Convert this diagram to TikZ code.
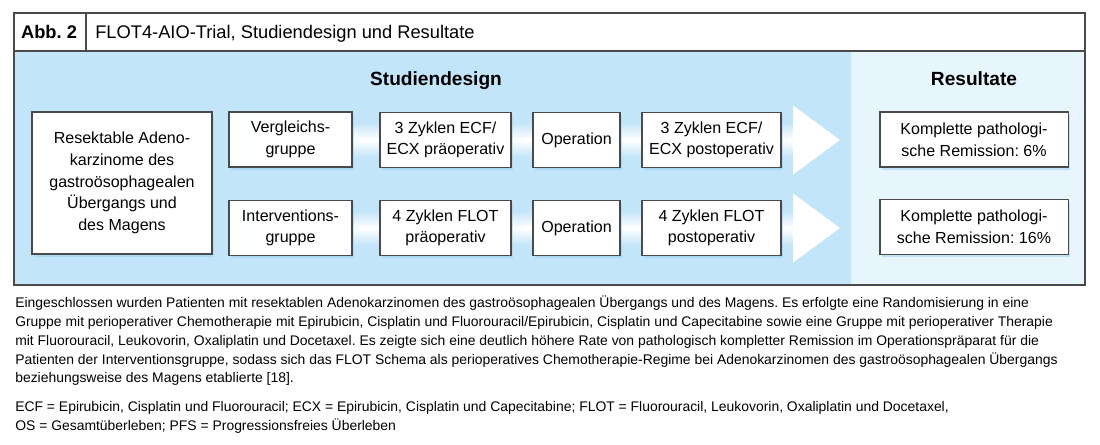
\documentclass[tikz,border=0pt]{standalone}
\usepackage{fontspec}
\setmainfont{Liberation Sans}
\usetikzlibrary{shadows, backgrounds}
\definecolor{designBlue}{HTML}{C3E5F9}
\definecolor{resultBlue}{HTML}{E7F5FD}
\definecolor{frameGray}{HTML}{4A4A4A}
\definecolor{glowBlue}{HTML}{8FCBEE}
\frenchspacing

\tikzset{
  stepbox/.style={draw=frameGray, fill=white, line width=0.75pt, align=center, inner sep=0pt,
    font=\fontsize{11.4}{15.4}\selectfont,
    drop shadow={shadow xshift=1.2pt, shadow yshift=-1.8pt, fill=glowBlue, opacity=0.45}},
  headline/.style={font=\fontsize{13.6}{16}\selectfont\bfseries, inner sep=0pt, anchor=base},
  band/.style={top color=designBlue, bottom color=designBlue, middle color=white},
  capline/.style={font=\fontsize{9.9}{13.3}\selectfont, inner sep=0pt, anchor=base west},
}

\begin{document}
\begin{tikzpicture}[x=0.025cm, y=-0.025cm]
  \useasboundingbox (0,0) rectangle (1100,445);
  % header
  \node[font=\fontsize{13}{16}\selectfont\bfseries, inner sep=0pt, anchor=base] (abb) at (49,38.5) {Abb. 2};
  \node[font=\fontsize{13}{16}\selectfont, inner sep=0pt, anchor=base west] (title) at (95,38.5) {FLOT4-AIO-Trial, Studiendesign und Resultate};
  \node[headline] (design) at (436,86) {Studiendesign};
  \node[headline] (result) at (974,86) {Resultate};
  % boxes
  \node[stepbox, minimum width=4.5cm, minimum height=3.55cm] (src) at (122,183)
    {Resektable Adeno-\\karzinome des\\gastroösophagealen\\Übergangs und\\des Magens};
  \node[stepbox, minimum width=3.075cm, minimum height=1.375cm] (vgl) at (290.5,139.5) {Vergleichs-\\gruppe};
  \node[stepbox, minimum width=3.075cm, minimum height=1.375cm] (int) at (290.5,228) {Interventions-\\gruppe};
  \node[stepbox, minimum width=3.275cm, minimum height=1.375cm] (ecfPre) at (445.5,140) {3 Zyklen ECF/\\ECX präoperativ};
  \node[stepbox, minimum width=2.175cm, minimum height=1.375cm] (opA) at (576.5,140) {Operation};
  \node[stepbox, minimum width=3.475cm, minimum height=1.375cm] (ecfPost) at (711.5,140) {3 Zyklen ECF/\\ECX postoperativ};
  \node[stepbox, minimum width=3.275cm, minimum height=1.375cm] (flotPre) at (445.5,228) {4 Zyklen FLOT\\präoperativ};
  \node[stepbox, minimum width=2.175cm, minimum height=1.375cm] (opB) at (576.5,228) {Operation};
  \node[stepbox, minimum width=3.475cm, minimum height=1.375cm] (flotPost) at (711.5,228) {4 Zyklen FLOT\\postoperativ};
  \node[stepbox, minimum width=4.7cm, minimum height=1.375cm] (resA) at (974,139.5) {Komplette pathologi-\\sche Remission: 6\%};
  \node[stepbox, minimum width=4.7cm, minimum height=1.375cm] (resB) at (974,227) {Komplette pathologi-\\sche Remission: 16\%};
  \coordinate (neckA) at (793,140);
  \coordinate (tipA) at (840,140);
  \coordinate (neckB) at (793,228);
  \coordinate (tipB) at (840,228);
  \begin{scope}[on background layer]
    \fill[designBlue] (14,51) rectangle (851,285);
    \fill[resultBlue] (851,51) rectangle (1085,285);
    % arrows behind the boxes
    \shade[band] ([yshift=0.425cm]vgl.east) rectangle ([yshift=-0.425cm]neckA);
    \fill[white] ([yshift=0.8625cm]neckA) -- (tipA) -- ([yshift=-0.8625cm]neckA) -- cycle;
    \shade[band] ([yshift=0.425cm]int.east) rectangle ([yshift=-0.425cm]neckB);
    \fill[white] ([yshift=0.8625cm]neckB) -- (tipB) -- ([yshift=-0.8625cm]neckB) -- cycle;
  \end{scope}
  % frame
  \draw[frameGray, line width=0.8pt] (14,13) rectangle (1085,285);
  \draw[frameGray, line width=0.8pt] (14,51) -- (1085,51);
  \draw[frameGray, line width=0.8pt] (86,13) -- (86,51);
  % caption
  \foreach \n/\y/\t in {
    1/308/{Eingeschlossen wurden Patienten mit resektablen Adenokarzinomen des gastroösophagealen Übergangs und des Magens. Es erfolgte eine Randomisierung in eine},
    2/326.7/{Gruppe mit perioperativer Chemotherapie mit Epirubicin, Cisplatin und Fluorouracil/Epirubicin, Cisplatin und Capecitabine sowie eine Gruppe mit perioperativer Therapie},
    3/345.4/{mit Fluorouracil, Leukovorin, Oxaliplatin und Docetaxel. Es zeigte sich eine deutlich höhere Rate von pathologisch kompletter Remission im Operationspräparat für die},
    4/364.1/{Patienten der Interventionsgruppe, sodass sich das FLOT Schema als perioperatives Chemotherapie-Regime bei Adenokarzinomen des gastroösophagealen Übergangs},
    5/382.8/{beziehungsweise des Magens etablierte [18].},
    6/412/{ECF = Epirubicin, Cisplatin und Fluorouracil; ECX = Epirubicin, Cisplatin und Capecitabine; FLOT = Fluorouracil, Leukovorin, Oxaliplatin und Docetaxel,},
    7/430.5/{OS = Gesamtüberleben; PFS = Progressionsfreies Überleben}} {
    \node[capline] (cap\n) at (15,\y) {\t};
  }
\end{tikzpicture}
\end{document}
